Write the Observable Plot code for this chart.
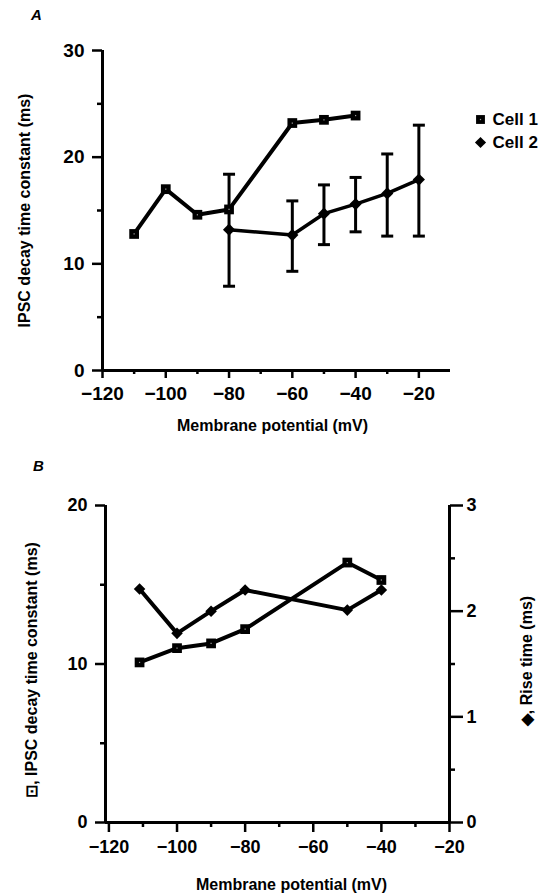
<!DOCTYPE html>
<html>
<head>
<meta charset="utf-8">
<script src="https://cdn.jsdelivr.net/npm/d3@7"></script>
<script src="https://cdn.jsdelivr.net/npm/@observablehq/plot@0.6"></script>
<style>
  html, body { margin: 0; padding: 0; background: #fff; }
  #chart { width: 549px; height: 896px; overflow: hidden; }
  svg { display: block; }
</style>
</head>
<body>
<div id="chart"></div>
<script>
// ---------- Panel A data ----------
const cell1Potential = [-110, -100, -90, -80, -60, -50, -40];
const cell1Decay     = [12.8, 17.0, 14.6, 15.1, 23.2, 23.5, 23.9];

const cell2Potential = [-80, -60, -50, -40, -30, -20];
const cell2Decay     = [13.2, 12.7, 14.7, 15.6, 16.6, 17.9];
const cell2Upper     = [18.4, 15.9, 17.4, 18.1, 20.3, 23.0];
const cell2Lower     = [7.9, 9.3, 11.8, 13.0, 12.6, 12.6];

const aYTicks = [0, 10, 20, 30];
const aYMinor = [5, 15, 25];
const aXTicks = [-120, -100, -80, -60, -40, -20];
const aXMinor = [-110, -90, -70, -50, -30];
const legendLabels = ["Cell 1", "Cell 2"];

// ---------- Panel B data ----------
const bPotential = [-111, -100, -90, -80, -50, -40];
const bDecay     = [10.1, 11.0, 11.3, 12.2, 16.4, 15.3];
const bRise      = [2.21, 1.79, 2.0, 2.2, 2.01, 2.2];

const bYTicks = [0, 10, 20];
const bYMinor = [5, 15];
const riseTicks = [0, 1, 2, 3];
const riseMinor = [0.5, 1.5, 2.5];
const bXTicks = [-120, -100, -80, -60, -40, -20];
const bXMinor = [-110, -90, -70, -50, -30];
const decayMaxB = 20, riseMaxB = 3;
const riseToDecay = v => v * decayMaxB / riseMaxB;

// ---------- helpers ----------
const FONT = "'Liberation Sans', Arial, Helvetica, sans-serif";
const fmtMinus = d => d < 0 ? "\u2212" + Math.abs(d) : String(d);
const capSymbol = { draw(ctx) { ctx.moveTo(-6, 0); ctx.lineTo(6, 0); } };
const T = (extra) => Object.assign({text: d => d, textAnchor: "middle", lineAnchor: "middle", fontSize: 16, fontWeight: "bold"}, extra);

const cell1 = cell1Potential.map((x, i) => ({x, y: cell1Decay[i]}));
const cell2 = cell2Potential.map((x, i) => ({x, y: cell2Decay[i], hi: cell2Upper[i], lo: cell2Lower[i]}));
const bData = bPotential.map((x, i) => ({x, decay: bDecay[i], rise: riseToDecay(bRise[i])}));

const plotA = Plot.plot({
  width: 549, height: 445,
  marginTop: 50, marginBottom: 75, marginLeft: 102, marginRight: 99,
  x: {domain: [-120, -10], label: null},
  y: {domain: [0, 30], label: null},
  style: {fontFamily: FONT, background: "white", color: "black", overflow: "visible"},
  marks: [
    Plot.ruleX([-120], {strokeWidth: 3}),
    Plot.ruleY([0], {strokeWidth: 3}),
    Plot.axisY({ticks: aYTicks, tickSize: 10, tickPadding: 8, strokeWidth: 2.5, fontSize: 19, fontWeight: "bold", label: null, tickFormat: d => String(d)}),
    Plot.axisY({ticks: aYMinor, tickSize: 5, strokeWidth: 2.5, label: null, tickFormat: () => ""}),
    Plot.axisX({ticks: aXTicks, tickSize: 8, tickPadding: 8, strokeWidth: 2.5, fontSize: 19, fontWeight: "bold", label: null, tickFormat: fmtMinus}),
    Plot.axisX({ticks: aXMinor, tickSize: 4, strokeWidth: 2.5, label: null, tickFormat: () => ""}),
    // error bars
    Plot.ruleX(cell2, {x: "x", y1: "lo", y2: "hi", strokeWidth: 3}),
    Plot.dot(cell2, {x: "x", y: "hi", symbol: capSymbol, fill: "none", stroke: "black", strokeWidth: 3}),
    Plot.dot(cell2, {x: "x", y: "lo", symbol: capSymbol, fill: "none", stroke: "black", strokeWidth: 3}),
    // lines
    Plot.line(cell1, {x: "x", y: "y", strokeWidth: 4}),
    Plot.line(cell2, {x: "x", y: "y", strokeWidth: 3.5}),
    Plot.dot(cell1, {x: "x", y: "y", symbol: "square", r: 5.5, fill: "black"}),
    Plot.dot(cell1, {x: "x", y: "y", symbol: "square", r: 0.7, fill: "#999"}),
    Plot.dot(cell2, {x: "x", y: "y", symbol: "diamond2", r: 5.5, fill: "black"}),
    // legend
    Plot.dot([legendLabels[0]], {frameAnchor: "top-right", dx: 30, dy: 69, symbol: "square", r: 5, fill: "black"}),
    Plot.dot([legendLabels[0]], {frameAnchor: "top-right", dx: 30, dy: 69, symbol: "square", r: 0.7, fill: "#999"}),
    Plot.dot([legendLabels[1]], {frameAnchor: "top-right", dx: 30, dy: 92, symbol: "diamond2", r: 5, fill: "black"}),
    Plot.text([legendLabels[0]], T({frameAnchor: "top-right", dx: 42, dy: 69, textAnchor: "start", fontSize: 17})),
    Plot.text([legendLabels[1]], T({frameAnchor: "top-right", dx: 42, dy: 92, textAnchor: "start", fontSize: 17})),
    // titles
    Plot.text(["IPSC decay time constant (ms)"], T({frameAnchor: "left", dx: -78, rotate: -90})),
    Plot.text(["Membrane potential (mV)"], T({frameAnchor: "bottom", dx: -4, dy: 55})),
    Plot.text(["A"], T({frameAnchor: "top-left", dx: -66, dy: -35, fontSize: 15, fontStyle: "italic"}))
  ]
});

const plotB = Plot.plot({
  width: 549, height: 451,
  marginTop: 60, marginBottom: 74, marginLeft: 105, marginRight: 100,
  x: {domain: [-121, -20], label: null},
  y: {domain: [0, decayMaxB], label: null},
  style: {fontFamily: FONT, background: "white", color: "black", overflow: "visible"},
  marks: [
    Plot.ruleX([-121], {strokeWidth: 3}),
    Plot.ruleX([-20], {strokeWidth: 3}),
    Plot.ruleY([0], {strokeWidth: 3}),
    Plot.axisY({ticks: bYTicks, tickSize: 10, tickPadding: 8, strokeWidth: 2.5, fontSize: 18, fontWeight: "bold", label: null, tickFormat: d => String(d)}),
    Plot.axisY({ticks: bYMinor, tickSize: 5, strokeWidth: 2.5, label: null, tickFormat: () => ""}),
    Plot.axisY({anchor: "right", ticks: riseTicks.map(riseToDecay), tickSize: 13, tickPadding: 4, strokeWidth: 2.5, fontSize: 18, fontWeight: "bold", label: null, tickFormat: (d, i) => String(riseTicks[i])}),
    Plot.axisY({anchor: "right", ticks: riseMinor.map(riseToDecay), tickSize: 5, strokeWidth: 2.5, label: null, tickFormat: () => ""}),
    Plot.axisX({ticks: bXTicks, tickSize: 10, tickPadding: 8, strokeWidth: 2.5, fontSize: 18, fontWeight: "bold", label: null, tickFormat: fmtMinus}),
    Plot.axisX({ticks: bXMinor, tickSize: 5, strokeWidth: 2.5, label: null, tickFormat: () => ""}),
    Plot.line(bData, {x: "x", y: "decay", strokeWidth: 4}),
    Plot.line(bData, {x: "x", y: "rise", strokeWidth: 4}),
    Plot.dot(bData, {x: "x", y: "decay", symbol: "square", r: 5.5, fill: "black"}),
    Plot.dot(bData, {x: "x", y: "decay", symbol: "square", r: 0.7, fill: "#999"}),
    Plot.dot(bData, {x: "x", y: "rise", symbol: "diamond2", r: 5.2, fill: "black"}),
    Plot.text(["\u22A1, IPSC decay time constant (ms)"], T({frameAnchor: "left", dx: -74, dy: 6, rotate: -90})),
    Plot.text(["\u25C6, Rise time (ms)"], T({frameAnchor: "right", dx: 77, dy: -3, rotate: -90})),
    Plot.text(["Membrane potential (mV)"], T({frameAnchor: "bottom", dx: 14, dy: 62})),
    Plot.text(["B"], T({frameAnchor: "top-left", dx: -67, dy: -39, fontSize: 15, fontStyle: "italic"}))
  ]
});

const chart = document.getElementById("chart");
chart.appendChild(plotA);
chart.appendChild(plotB);
</script>
</body>
</html>
